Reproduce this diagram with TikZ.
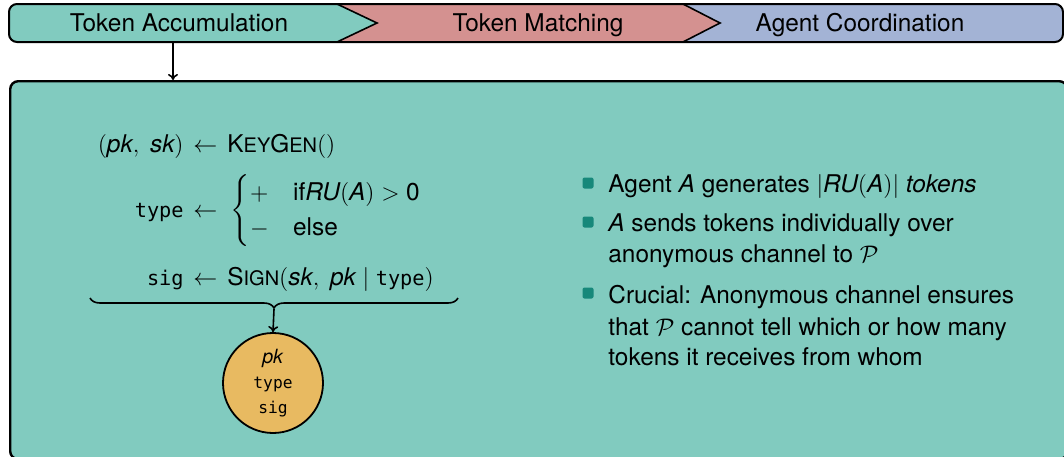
\documentclass[tikz,border=0pt]{standalone}
\usepackage{amsmath}
\usepackage{fontspec}
\setmainfont{TeX Gyre Heros}
\setmonofont[Scale=0.83]{DejaVu Sans Mono}
\usetikzlibrary{decorations.pathreplacing,arrows.meta}
\definecolor{cgreen}{HTML}{81CBBF}
\definecolor{cred}{HTML}{D49190}
\definecolor{cblue}{HTML}{A3B3D5}
\definecolor{corange}{HTML}{E8BA61}
\definecolor{cbullet}{HTML}{17887A}
\newcommand{\vi}[1]{\text{\itshape #1}}
\newcommand{\scsz}{\fontsize{10}{12}\selectfont}
\tikzset{
  txt/.style={inner sep=0pt, font=\fontsize{12.2}{14.6}\selectfont},
  line/.style={txt, anchor=base west},
  lhs/.style={txt, anchor=base east},
  bul/.style={fill=cbullet, rounded corners=1pt, minimum size=5.5pt, inner sep=0pt},
  conn/.style={line width=0.8pt, -{To[length=3pt,width=5pt]}},
}
\begin{document}
\begin{tikzpicture}[x=0.5pt, y=-0.5pt]
\clip (0,0) rectangle (1064,456);
% top bar
\fill[cgreen, rounded corners=4pt] (337,4) -- (9,4) -- (9,42) -- (337,42);
\fill[cgreen] (320,4) -- (337,4) -- (377,23) -- (337,42) -- (320,42) -- cycle;
\fill[cred] (337,4) -- (683,4) -- (720,23) -- (683,42) -- (337,42) -- (377,23) -- cycle;
\fill[cblue, rounded corners=4pt] (725,4) -- (1063,4) -- (1063,42) -- (725,42);
\fill[cblue] (683,4) -- (730,4) -- (730,42) -- (683,42) -- (720,23) -- cycle;
\draw[line width=1pt, rounded corners=4pt] (9,4) rectangle (1063,42);
\draw[line width=0.8pt] (337,4) -- (377,23) -- (337,42);
\draw[line width=0.8pt] (683,4) -- (720,23) -- (683,42);
\node[txt, anchor=base] (acc) at (179,31.5) {Token Accumulation};
\node[txt, anchor=base] (mat) at (538,31.5) {Token Matching};
\node[txt, anchor=base] (coo) at (860,31.5) {Agent Coordination};
\coordinate (accb) at (173,42);
% main box
\node[draw, fill=cgreen, line width=1.2pt, rounded corners=4pt, anchor=north west,
      minimum width=528.5pt, minimum height=189pt, inner sep=0pt] (main) at (9,80) {};
\draw[conn] (accb) -- (accb |- main.north);
% equations
\node[lhs] (kgl) at (184,152) {$(\vi{pk},\ \vi{sk})$};
\node[line] (kgr) at (193,152) {$\leftarrow$\hspace{5pt}K{\scsz EY}G{\scsz EN}$()$};
\node[lhs] (tyl) at (184,217) {\texttt{type}};
\node[line] (tyr) at (193,217) {$\leftarrow\;\begin{cases} + & \text{if}\vi{RU}(\vi{A}) > \text{0}\\ - & \text{else}\end{cases}$};
\node[lhs] (sgl) at (184,285) {\texttt{sig}};
\node[line] (sgr) at (193,285) {$\leftarrow$\hspace{5pt}S{\scsz IGN}$(\vi{sk},\ \vi{pk} \mid \texttt{type})$};
\coordinate (bl) at (90,298);
\coordinate (br) at (458,298);
\coordinate (tip) at (274,309);
\draw[decorate, decoration={brace, mirror, amplitude=5pt}, line width=0.8pt] (bl) -- (br);
\node[circle, draw, fill=corange, minimum size=50pt, inner sep=0pt, line width=0.9pt,
      align=center, font=\fontsize{9.8}{12.5}\selectfont] (tok) at (273,383)
      {\textit{pk}\\\texttt{type}\\\texttt{sig}};
\draw[conn] (tip) -- (tok.north);
% bullets
\node[bul] (b1) at (588,183) {};
\node[bul] (b2) at (588,222) {};
\node[bul] (b3) at (588,293) {};
\node[line] (l1) at (608,192) {Agent \textit{A} generates $|\vi{RU}(\vi{A})|$ \textit{tokens}};
\node[line] (l2) at (608,231) {\textit{A} sends tokens individually over};
\node[line] (l3) at (608,262) {anonymous channel to $\mathcal{P}$};
\node[line] (l4) at (608,303) {Crucial: Anonymous channel ensures};
\node[line] (l5) at (608,335) {that $\mathcal{P}$ cannot tell which or how many};
\node[line] (l6) at (608,365) {tokens it receives from whom};
\end{tikzpicture}
\end{document}
